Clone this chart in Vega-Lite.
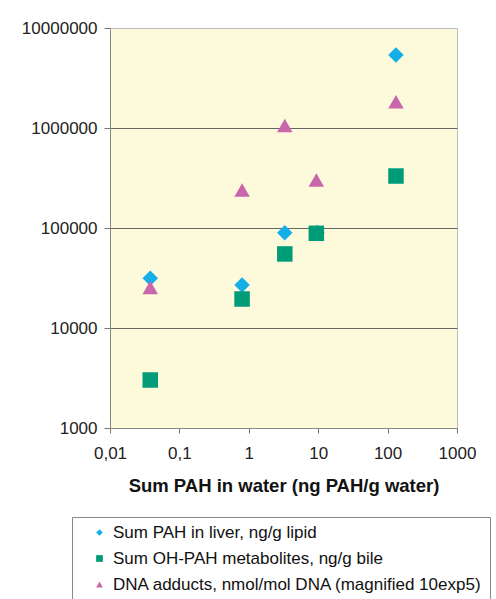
{
  "$schema": "https://vega.github.io/schema/vega-lite/v6.json",
  "width": 347,
  "height": 400,
  "autosize": {"type": "none"},
  "padding": {"left": 110, "top": 28, "right": 39, "bottom": 171},
  "background": "white",
  "config": {
    "font": "Liberation Sans",
    "view": {"fill": "#FDF9DB", "stroke": "#BDBDBD", "strokeWidth": 1},
    "legend": {
      "orient": "none",
      "legendX": -38,
      "legendY": 489,
      "padding": 7,
      "symbolOffset": 12,
      "labelOffset": 5,
      "rowPadding": 8,
      "labelFontSize": 17,
      "labelColor": "#111",
      "labelLimit": 500,
      "symbolSize": 45,
      "symbolStrokeWidth": 0,
      "strokeColor": "#888",
      "fillColor": "white"
    }
  },
  "data": {
    "values": [
      {"series": "Sum PAH in liver, ng/g lipid", "x": 0.038, "y": 31400},
      {"series": "Sum PAH in liver, ng/g lipid", "x": 0.8, "y": 26900},
      {"series": "Sum PAH in liver, ng/g lipid", "x": 3.3, "y": 89800},
      {"series": "Sum PAH in liver, ng/g lipid", "x": 9.6, "y": 90000},
      {"series": "Sum PAH in liver, ng/g lipid", "x": 132, "y": 5370000},
      {"series": "Sum OH-PAH metabolites, ng/g bile", "x": 0.038, "y": 3020},
      {"series": "Sum OH-PAH metabolites, ng/g bile", "x": 0.8, "y": 19500},
      {"series": "Sum OH-PAH metabolites, ng/g bile", "x": 3.3, "y": 55000},
      {"series": "Sum OH-PAH metabolites, ng/g bile", "x": 9.4, "y": 88500},
      {"series": "Sum OH-PAH metabolites, ng/g bile", "x": 132, "y": 331000},
      {"series": "DNA adducts, nmol/mol DNA (magnified 10exp5)", "x": 0.038, "y": 25400},
      {"series": "DNA adducts, nmol/mol DNA (magnified 10exp5)", "x": 0.8, "y": 240000},
      {"series": "DNA adducts, nmol/mol DNA (magnified 10exp5)", "x": 3.3, "y": 1060000},
      {"series": "DNA adducts, nmol/mol DNA (magnified 10exp5)", "x": 9.4, "y": 302000},
      {"series": "DNA adducts, nmol/mol DNA (magnified 10exp5)", "x": 132, "y": 1830000}
    ]
  },
  "mark": {"type": "point", "filled": true, "opacity": 1, "strokeWidth": 0, "size": 240},
  "encoding": {
    "x": {
      "field": "x",
      "type": "quantitative",
      "scale": {"type": "log", "domain": [0.01, 1000], "nice": false},
      "axis": {
        "values": [0.01, 0.1, 1, 10, 100, 1000],
        "labelExpr": "replace(toString(datum.value), '.', ',')",
        "grid": false,
        "tickSize": 5,
        "tickColor": "#777",
        "domainColor": "#888",
        "labelPadding": 12,
        "labelFontSize": 17,
        "labelColor": "#222",
        "labelFlush": false,
        "title": "Sum PAH in water (ng PAH/g water)",
        "titleFontSize": 18.5,
        "titleFontWeight": "bold",
        "titleColor": "#111",
        "titlePadding": 15
      }
    },
    "y": {
      "field": "y",
      "type": "quantitative",
      "scale": {"type": "log", "domain": [1000, 10000000], "nice": false},
      "axis": {
        "values": [1000, 10000, 100000, 1000000, 10000000],
        "format": "d",
        "grid": true,
        "gridColor": "#666",
        "gridOpacity": {"condition": {"test": "datum.value == 1000 || datum.value == 10000000", "value": 0}, "value": 1},
        "tickSize": 6,
        "tickColor": "#777",
        "domainColor": "#888",
        "labelPadding": 7,
        "labelFontSize": 17,
        "labelColor": "#222",
        "labelFlush": false,
        "title": null
      }
    },
    "color": {
      "field": "series",
      "type": "nominal",
      "scale": {
        "domain": ["Sum PAH in liver, ng/g lipid", "Sum OH-PAH metabolites, ng/g bile", "DNA adducts, nmol/mol DNA (magnified 10exp5)"],
        "range": ["#16AEE6", "#009C78", "#C966AC"]
      },
      "legend": {"title": null}
    },
    "shape": {
      "field": "series",
      "type": "nominal",
      "scale": {
        "domain": ["Sum PAH in liver, ng/g lipid", "Sum OH-PAH metabolites, ng/g bile", "DNA adducts, nmol/mol DNA (magnified 10exp5)"],
        "range": ["diamond", "square", "triangle-up"]
      },
      "legend": {"title": null}
    }
  }
}
